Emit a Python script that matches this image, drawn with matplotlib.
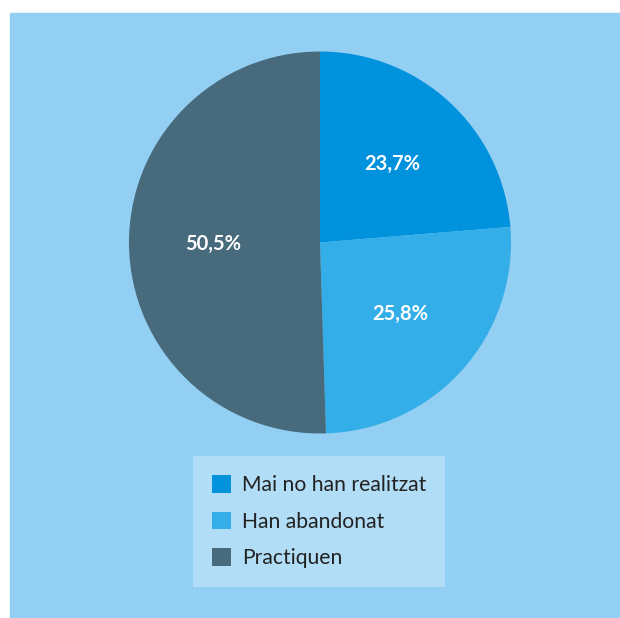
import matplotlib.pyplot as plt
from matplotlib.patches import Rectangle, Patch

categories = ["Mai no han realitzat", "Han abandonat", "Practiquen"]
shares = [23.7, 25.8, 50.5]
colors = ["#0092DC", "#33AEE9", "#476A7D"]

PANEL = "#93CFF2"
LEGEND_BG = "#B2DDF6"

W, H = 620, 618
fig = plt.figure(figsize=(W / 100, H / 100), dpi=100, facecolor="white")

# light-blue card behind everything
fig.patches.append(Rectangle((10 / W, 0), 610 / W, 1 - 13 / H,
                             transform=fig.transFigure, color=PANEL, zorder=-10))

ax = fig.add_axes([0, 0, 1, 1])
ax.patch.set_alpha(0)

ax.pie(shares, colors=colors, startangle=90, counterclock=False,
       center=(320, H - 242.5), radius=191,
       autopct=lambda p: f"{p:.1f}%".replace(".", ","), pctdistance=0.56,
       wedgeprops=dict(linewidth=0),
       textprops=dict(color="white", fontweight="bold", fontsize=14.5,
                      family="Lato"))

ax.set_xlim(0, W)
ax.set_ylim(0, H)
ax.set_aspect("equal")
ax.set_axis_off()

handles = [Patch(facecolor=c, edgecolor="none") for c in colors]
leg = ax.legend(handles, categories, loc="upper left",
                bbox_to_anchor=(193 / W, 1 - 456 / H), bbox_transform=fig.transFigure,
                borderaxespad=0, frameon=True, fancybox=False, framealpha=1,
                facecolor=LEGEND_BG, edgecolor="none",
                prop=dict(family="Lato", size=15.2),
                handlelength=0.92, handleheight=0.92, handletextpad=0.5,
                labelspacing=0.78, borderpad=0.9)
for t in leg.get_texts():
    t.set_color("#222222")

fig.savefig("out.png", dpi=100, facecolor="white")
